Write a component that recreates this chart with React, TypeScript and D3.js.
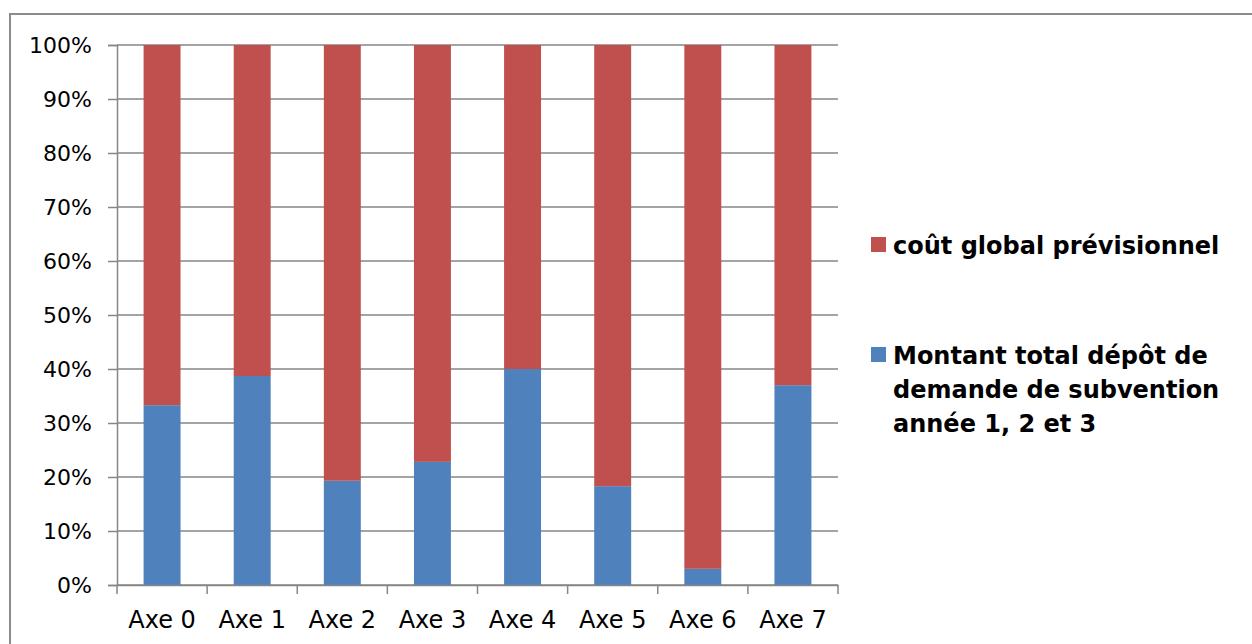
import * as d3 from "d3";
import { useEffect, useRef } from "react";

const categories = ["Axe 0", "Axe 1", "Axe 2", "Axe 3", "Axe 4", "Axe 5", "Axe 6", "Axe 7"];
// share of "Montant total" in each stack (%)
const montantValues = [33.3, 38.7, 19.3, 22.8, 40.0, 18.3, 3.0, 37.0];
// share of "coût global" (rest of the stack)
const coutValues = [66.7, 61.3, 80.7, 77.2, 60.0, 81.7, 97.0, 63.0];
const yTicks = [0, 10, 20, 30, 40, 50, 60, 70, 80, 90, 100];
const legendItems = [
  { lines: ["coût global prévisionnel"], color: "#C0504D" },
  { lines: ["Montant total dépôt de", "demande de subvention", "année 1, 2 et 3"], color: "#4F81BD" },
];

export default function App() {
  const svgRef = useRef<SVGSVGElement | null>(null);

  useEffect(() => {
    const svg = d3.select(svgRef.current);
    svg.selectAll("*").remove();

    const width = 1252;
    const height = 644;
    const margin = { top: 45, right: 414, bottom: 59, left: 117 };
    const font = "'DejaVu Sans', sans-serif";
    const gray = "#868686";

    // outer frame
    svg
      .append("rect")
      .attr("x", 10)
      .attr("y", 14)
      .attr("width", width + 20)
      .attr("height", height + 20)
      .attr("fill", "white")
      .attr("stroke", "#8c8c8c")
      .attr("stroke-width", 2);

    const x = d3
      .scaleBand()
      .domain(categories)
      .range([margin.left, width - margin.right])
      .paddingInner(0.59)
      .paddingOuter(0.295);

    const y = d3
      .scaleLinear()
      .domain([0, 100])
      .range([height - margin.bottom, margin.top]);

    // gridlines
    svg
      .append("g")
      .selectAll("line")
      .data(yTicks)
      .join("line")
      .attr("x1", margin.left)
      .attr("x2", width - margin.right)
      .attr("y1", (d) => y(d))
      .attr("y2", (d) => y(d))
      .attr("stroke", gray)
      .attr("stroke-width", 1.5);

    // stacked bars
    const rows = categories.map((c, i) => ({
      cat: c,
      montant: montantValues[i],
      cout: coutValues[i],
    }));
    const stack = d3.stack<any>().keys(["montant", "cout"])(rows);
    const colors = ["#4F81BD", "#C0504D"];

    stack.forEach((layer, li) => {
      svg
        .append("g")
        .selectAll("rect")
        .data(layer)
        .join("rect")
        .attr("x", (d) => x(d.data.cat)!)
        .attr("width", x.bandwidth())
        .attr("y", (d) => y(d[1]))
        .attr("height", (d) => y(d[0]) - y(d[1]))
        .attr("fill", colors[li]);
    });

    // y axis
    const yAxis = svg
      .append("g")
      .attr("transform", `translate(${margin.left},0)`)
      .call(
        d3
          .axisLeft(y)
          .tickValues(yTicks)
          .tickSize(9)
          .tickPadding(16)
          .tickFormat((d) => `${d}%`)
      );
    yAxis.select(".domain").attr("stroke", gray).attr("stroke-width", 1.5);
    yAxis.selectAll(".tick line").attr("stroke", gray).attr("stroke-width", 1.5);
    yAxis
      .selectAll(".tick text")
      .attr("font-family", font)
      .attr("font-size", 22)
      .attr("fill", "#000");

    // x axis
    const xAxis = svg
      .append("g")
      .attr("transform", `translate(0,${height - margin.bottom})`)
      .call(d3.axisBottom(x).tickSize(0).tickPadding(26));
    xAxis.select(".domain").attr("stroke", gray).attr("stroke-width", 1.5);
    xAxis
      .selectAll(".tick text")
      .attr("font-family", font)
      .attr("font-size", 24)
      .attr("fill", "#000");

    // band boundary ticks
    const step = x.step();
    const boundaries = d3.range(categories.length + 1).map((i) => margin.left + i * step);
    svg
      .append("g")
      .selectAll("line")
      .data(boundaries)
      .join("line")
      .attr("x1", (d) => d)
      .attr("x2", (d) => d)
      .attr("y1", height - margin.bottom)
      .attr("y2", height - margin.bottom + 9)
      .attr("stroke", gray)
      .attr("stroke-width", 1.5);

    // legend
    const legend = svg.append("g").attr("transform", "translate(871,0)");
    const legendY = [254, 364];
    legendItems.forEach((item, i) => {
      const g = legend.append("g").attr("transform", `translate(0,${legendY[i]})`);
      g.append("rect")
        .attr("x", 0)
        .attr("y", -17)
        .attr("width", 15)
        .attr("height", 15)
        .attr("fill", item.color);
      g.selectAll("text")
        .data(item.lines)
        .join("text")
        .attr("x", 22)
        .attr("y", (_, j) => j * 34)
        .attr("font-family", font)
        .attr("font-weight", "bold")
        .attr("font-size", 24)
        .attr("fill", "#000")
        .text((d) => d);
    });
  }, []);

  return (
    <svg
      ref={svgRef}
      width={1252}
      height={644}
      style={{ position: "absolute", left: 0, top: 0 }}
    ></svg>
  );
}
